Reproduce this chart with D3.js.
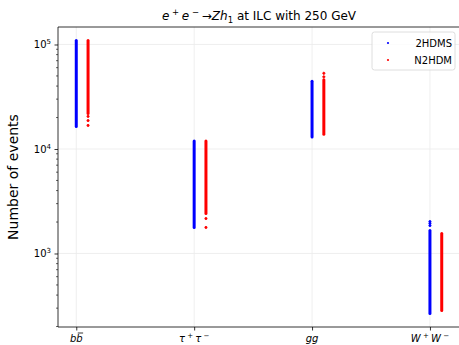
<!DOCTYPE html>
<html>
<head>
<meta charset="utf-8">
<script src="https://cdn.jsdelivr.net/npm/d3@7"></script>
<style>
  body { margin: 0; background: #fff; }
  svg { display: block; font-family: "DejaVu Sans", sans-serif; }
</style>
</head>
<body>
<svg id="chart"></svg>
<script>
// categories on the x axis (base text, superscript marks)
const categories = ["bb", "tautau", "gg", "WW"];

// dense part of each column: [min, max] number of events
const hdmsRange = [[16400, 109000], [1775, 11900], [13000, 44500], [267, 1660]];
const n2hdmRange = [[21900, 109000], [2410, 11900], [13800, 46000], [285, 1550]];
// isolated points off the dense part
const hdmsSparse = [[], [], [], [1850, 1940, 2020]];
const n2hdmSparse = [[20500, 18700, 16800], [2160, 1775], [49000, 53000], []];

const yTicks = [1e3, 1e4, 1e5];
const seriesOffset = [0, 0.1];

let width = 459, height = 345;
let marginLeft = 58, marginTop = 27, plotBottom = 327, plotRight = 460;
let blue = "#0000ff", red = "#ff0000";
let gridColor = "#ebebeb";

const svg = d3.select("#chart")
    .attr("width", width)
    .attr("height", height)
    .attr("viewBox", [0, 0, width, height]);

const x = d3.scaleLinear([-0.155, 3.255], [marginLeft, plotRight]);
const y = d3.scaleLog([198, 147000], [plotBottom, marginTop]);

// grid
svg.append("g")
    .selectAll("line")
    .data(d3.range(categories.length))
    .join("line")
    .attr("x1", i => x(i)).attr("x2", i => x(i))
    .attr("y1", marginTop).attr("y2", plotBottom)
    .attr("stroke", gridColor).attr("stroke-width", 0.8);
svg.append("g")
    .selectAll("line")
    .data(yTicks)
    .join("line")
    .attr("x1", marginLeft).attr("x2", plotRight)
    .attr("y1", d => y(d)).attr("y2", d => y(d))
    .attr("stroke", gridColor).attr("stroke-width", 0.8);

// columns of points
function drawSeries(ranges, sparse, offset, color) {
    const g = svg.append("g").attr("fill", color).attr("stroke", color);
    g.selectAll("line")
        .data(ranges)
        .join("line")
        .attr("x1", (d, i) => x(i + offset)).attr("x2", (d, i) => x(i + offset))
        .attr("y1", d => y(d[0])).attr("y2", d => y(d[1]))
        .attr("stroke-width", 3)
        .attr("stroke-linecap", "round");
    const pts = sparse.flatMap((vals, i) => vals.map(v => [i, v]));
    g.selectAll("circle")
        .data(pts)
        .join("circle")
        .attr("cx", d => x(d[0] + offset))
        .attr("cy", d => y(d[1]))
        .attr("r", 1.1)
        .attr("stroke-width", 0.9);
}
drawSeries(hdmsRange, hdmsSparse, seriesOffset[0], blue);
drawSeries(n2hdmRange, n2hdmSparse, seriesOffset[1], red);

// y axis
const yAxis = svg.append("g")
    .attr("transform", `translate(${marginLeft},0)`)
    .call(d3.axisLeft(y).tickValues(yTicks).tickSize(3.5).tickFormat(""))
    .call(g => g.select(".domain").remove());
yAxis.selectAll(".tick line").attr("stroke-width", 0.8);
const minor = y.ticks().filter(d => !yTicks.includes(d));
svg.append("g")
    .selectAll("line")
    .data(minor)
    .join("line")
    .attr("x1", marginLeft - 2).attr("x2", marginLeft)
    .attr("y1", d => y(d)).attr("y2", d => y(d))
    .attr("stroke", "#000").attr("stroke-width", 0.6);
const yLab = svg.append("g")
    .attr("font-size", 10)
    .attr("fill", "#000")
    .selectAll("text")
    .data(yTicks)
    .join("text")
    .attr("x", marginLeft - 7)
    .attr("y", d => y(d) + 4)
    .attr("text-anchor", "end");
yLab.append("tspan").text("10");
yLab.append("tspan").attr("dy", -4).attr("font-size", 7).text(d => Math.round(Math.log10(d)));

// x axis
svg.append("g")
    .attr("transform", `translate(0,${plotBottom})`)
    .call(d3.axisBottom(x).tickValues(d3.range(categories.length)).tickSize(3.5).tickFormat(""))
    .call(g => g.select(".domain").remove())
    .call(g => g.selectAll(".tick line").attr("stroke-width", 0.8));

const xl = svg.append("g").attr("font-size", 10).attr("fill", "#000");
const baseY = plotBottom + 15;
categories.forEach((c, i) => {
    const t = xl.append("text").attr("x", x(i)).attr("y", baseY).attr("text-anchor", "middle");
    if (c === "bb") {
        t.append("tspan").attr("font-style", "italic").text("bb");
        // bar over the second b
        const ext = t.node().getExtentOfChar(1);
        xl.append("line")
            .attr("x1", ext.x + 1.5).attr("x2", ext.x + ext.width + 0.5)
            .attr("y1", baseY - 9).attr("y2", baseY - 9)
            .attr("stroke", "#000").attr("stroke-width", 0.8);
    } else if (c === "tautau") {
        t.append("tspan").attr("font-style", "italic").text("τ");
        t.append("tspan").attr("dy", -4).attr("font-size", 7).text(" + ");
        t.append("tspan").attr("dy", 4).attr("font-style", "italic").text("τ");
        t.append("tspan").attr("dy", -4).attr("font-size", 7).text(" −");
    } else if (c === "gg") {
        t.append("tspan").attr("font-style", "italic").text("gg");
    } else {
        t.append("tspan").attr("font-style", "italic").text("W");
        t.append("tspan").attr("dy", -4).attr("font-size", 7).text(" + ");
        t.append("tspan").attr("dy", 4).attr("font-style", "italic").text("W");
        t.append("tspan").attr("dy", -4).attr("font-size", 7).text(" −");
    }
});

// spines
svg.append("path")
    .attr("d", `M${plotRight},${marginTop}H${marginLeft}V${plotBottom}H${plotRight}`)
    .attr("fill", "none").attr("stroke", "#000").attr("stroke-width", 0.8);

// y label
svg.append("text")
    .attr("transform", `translate(18,${(marginTop + plotBottom) / 2}) rotate(-90)`)
    .attr("text-anchor", "middle")
    .attr("font-size", 14)
    .text("Number of events");

// title
const title = svg.append("text")
    .attr("x", (marginLeft + plotRight) / 2)
    .attr("y", 20)
    .attr("text-anchor", "middle")
    .attr("font-size", 12);
title.append("tspan").attr("font-style", "italic").text("e");
title.append("tspan").attr("dy", -5).attr("font-size", 8.5).text(" + ");
title.append("tspan").attr("dy", 5).attr("font-style", "italic").text("e");
title.append("tspan").attr("dy", -5).attr("font-size", 8.5).text(" − ");
title.append("tspan").attr("dy", 5).text("→");
title.append("tspan").attr("font-style", "italic").text("Zh");
title.append("tspan").attr("dy", 2.5).attr("font-size", 8.5).text("1");
title.append("tspan").attr("dy", -2.5).text(" at ILC with 250 GeV");

// legend
const legend = svg.append("g").attr("transform", "translate(372,32)");
legend.append("rect")
    .attr("width", 83).attr("height", 38).attr("rx", 2.5)
    .attr("fill", "#fff").attr("fill-opacity", 0.8)
    .attr("stroke", "#d6d6d6").attr("stroke-width", 0.8);
const entries = [["2HDMS", blue], ["N2HDM", red]];
const le = legend.selectAll("g.entry")
    .data(entries)
    .join("g")
    .attr("transform", (d, i) => `translate(0,${11 + i * 17})`);
le.append("circle").attr("cx", 16).attr("cy", 0).attr("r", 1.1).attr("fill", d => d[1]);
le.append("text").attr("x", 80).attr("y", 4).attr("text-anchor", "end")
    .attr("font-size", 10).text(d => d[0]);
</script>
</body>
</html>
